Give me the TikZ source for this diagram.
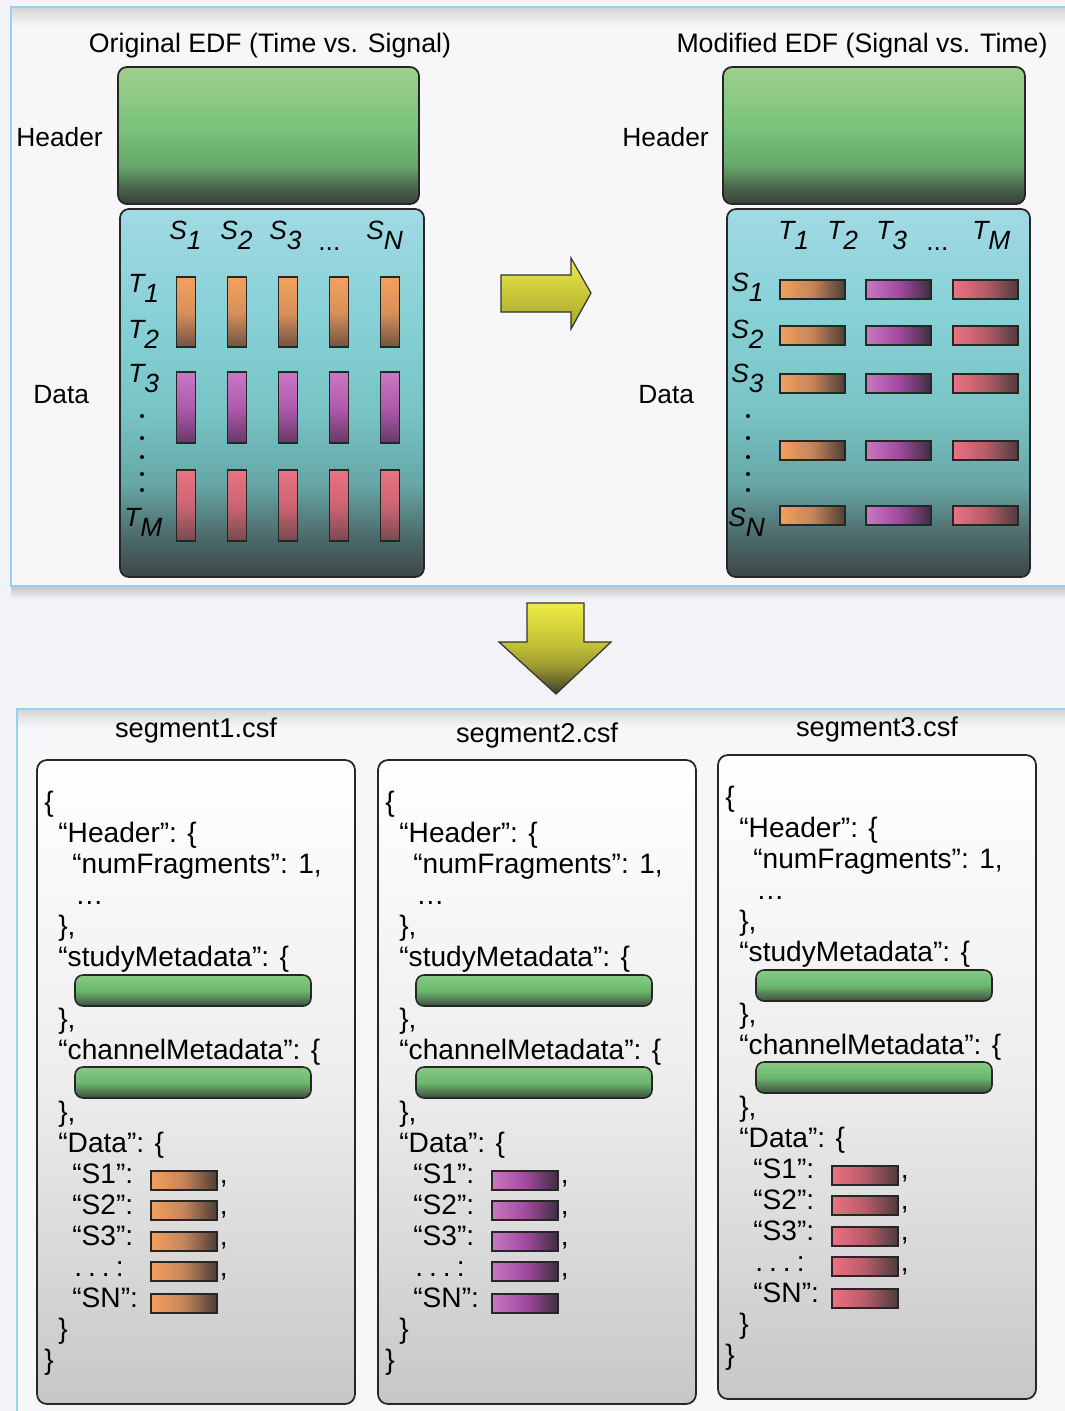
\documentclass[tikz,border=0pt]{standalone}
\usepackage{fontspec}
\setmainfont{Liberation Sans}
\usepackage{tikz}

\definecolor{pagebg}{HTML}{F3F3F7}
\definecolor{panelbg}{HTML}{F7F7FA}
\definecolor{panelblue}{HTML}{92D3F1}
\definecolor{hdrA}{HTML}{9DD08D}
\definecolor{hdrB}{HTML}{79C27A}
\definecolor{hdrC}{HTML}{66A86A}
\definecolor{hdrD}{HTML}{4C6C4E}
\definecolor{hdrE}{HTML}{3A403C}
\definecolor{datA}{HTML}{A1DAE4}
\definecolor{datB}{HTML}{86D0D6}
\definecolor{datC}{HTML}{78C4C4}
\definecolor{datD}{HTML}{66A6A6}
\definecolor{datE}{HTML}{4E6E6E}
\definecolor{datF}{HTML}{3E4646}
\definecolor{orgA}{HTML}{F3A05C}
\definecolor{orgB}{HTML}{C4845A}
\definecolor{orgC}{HTML}{4C3E38}
\definecolor{purA}{HTML}{C878C0}
\definecolor{purB}{HTML}{A24AA2}
\definecolor{purC}{HTML}{3E2E40}
\definecolor{redA}{HTML}{EC7282}
\definecolor{redB}{HTML}{B65C68}
\definecolor{redC}{HTML}{4E3C3E}
\definecolor{grnA}{HTML}{86CA84}
\definecolor{grnB}{HTML}{6CB86E}
\definecolor{grnC}{HTML}{3E4E3E}
\definecolor{yelA}{HTML}{EEEC44}
\definecolor{yelB}{HTML}{C2C036}
\definecolor{yelC}{HTML}{3E3E28}

\pgfdeclareverticalshading{hdrgrad}{100bp}{color(0bp)=(hdrE); color(25bp)=(hdrE); color(32bp)=(hdrD); color(39bp)=(hdrC); color(52bp)=(hdrB); color(75bp)=(hdrA); color(100bp)=(hdrA)}
\pgfdeclareverticalshading{datagrad}{100bp}{color(0bp)=(datF); color(25bp)=(datF); color(31bp)=(datE); color(37.5bp)=(datD); color(47.5bp)=(datC); color(60bp)=(datB); color(75bp)=(datA); color(100bp)=(datA)}
\pgfdeclareverticalshading{downgrad}{100bp}{color(0bp)=(yelC); color(25bp)=(yelC); color(40bp)=(yelB!70!yelC); color(52bp)=(yelB); color(75bp)=(yelA); color(100bp)=(yelA)}

\newcommand{\idx}[2]{\textit{#1\raisebox{-0.4em}{#2}}}
\newcommand{\indA}{\hspace*{0.28cm}}
\newcommand{\indB}{\hspace*{0.56cm}}
\newcommand{\indC}{\hspace*{0.62cm}}
\newcommand{\jsonbody}{%
\{\\
\indA“Header”: \{\\
\indB“numFragments”: 1,\\
\indC…\\
\indA\},\\
\indA“studyMetadata”: \{\\
\mbox{}\\
\indA\},\\
\indA“channelMetadata”: \{\\
\mbox{}\\
\indA\},\\
\indA“Data”: \{\\
\indB\makebox[2.95cm][l]{“S1”:},\\
\indB\makebox[2.95cm][l]{“S2”:},\\
\indB\makebox[2.95cm][l]{“S3”:},\\
\indB\makebox[2.95cm][l]{\hspace*{0.04cm}.\hspace{0.12cm}.\hspace{0.12cm}.\hspace{0.12cm}:},\\
\indB“SN”:\\
\indA\}\\
\}}

\begin{document}
\begin{tikzpicture}[x=0.02cm, y=-0.02cm,
    panel/.style={draw=panelblue, line width=1.2pt},
    hdrbox/.style={draw=black!85, line width=1pt, rounded corners=0.18cm, shade, shading=hdrgrad},
    databox/.style={draw=black!85, line width=1pt, rounded corners=0.18cm, shade, shading=datagrad},
    obarv/.style={draw=black!85, line width=0.8pt, top color=orgA, bottom color=orgC!70!orgB, middle color=orgA!45!orgB},
    pbarv/.style={draw=black!85, line width=0.8pt, top color=purA, bottom color=purC!60!purB, middle color=purA!35!purB},
    rbarv/.style={draw=black!85, line width=0.8pt, top color=redA, bottom color=redC!60!redB, middle color=redA!40!redB},
    obarh/.style={draw=black!85, line width=0.8pt, left color=orgA, right color=orgC, middle color=orgB},
    pbarh/.style={draw=black!85, line width=0.8pt, left color=purA, right color=purC, middle color=purB},
    rbarh/.style={draw=black!85, line width=0.8pt, left color=redA, right color=redC, middle color=redB},
    greenbar/.style={draw=black!85, line width=0.9pt, rounded corners=0.16cm, top color=grnA, bottom color=grnC, middle color=grnB},
    segbox/.style={draw=black!85, line width=1pt, rounded corners=0.2cm, top color=white, bottom color=black!22, middle color=black!7},
    yarrow/.style={draw=black!80, line width=0.7pt, top color=yelA, bottom color=yelB!85!black},
    darrow/.style={draw=black!80, line width=0.7pt, shade, shading=downgrad},
    ttl/.style={font=\fontsize{15.2}{18}\selectfont, inner sep=0pt, anchor=base},
    sidelbl/.style={font=\fontsize{15}{18}\selectfont, inner sep=0pt, anchor=base west},
    idxlbl/.style={font=\fontsize{15}{18}\selectfont, inner sep=0pt, anchor=base west},
    jsontxt/.style={font=\fontsize{16}{17.64}\selectfont, align=left, inner sep=0pt, anchor=north west},
    segttl/.style={font=\fontsize{15.5}{18}\selectfont, inner sep=0pt}]
\useasboundingbox (0,0) rectangle (1065,1411);
\fill[pagebg] (0,0) rectangle (1065,1411);

% upper panel: the two EDF layouts
\fill[panelbg] (11,7) rectangle (1065,586);
\shade[top color=black!16, bottom color=panelbg] (12,8) rectangle (1065,26);
\shade[top color=black!22, bottom color=pagebg] (11,587) rectangle (1065,599);
\draw[panel] (1065,7) -- (11,7) -- (11,586) -- (1065,586);

\node[ttl] (origttl) at (270,52) {Original EDF (Time vs. Signal)};
\node[ttl] (modttl) at (862,52) {Modified EDF (Signal vs. Time)};

\draw[hdrbox] (118,67) rectangle (419,204);
\draw[databox] (120,209) rectangle (424,577);
\draw[hdrbox] (723,67) rectangle (1025,204);
\draw[databox] (727,209) rectangle (1030,577);

\node[sidelbl] (hdrlblL) at (16,146) {Header};
\node[sidelbl] (datlblL) at (33,403) {Data};
\node[sidelbl] (hdrlblR) at (622,146) {Header};
\node[sidelbl] (datlblR) at (638,403) {Data};

% time x signal grid
\foreach \lab/\x in {1/169, 2/220, 3/269, N/366}
  \node[idxlbl] (sL\lab) at (\x,239) {\idx{S}{\lab}};
\node[idxlbl] (sLdots) at (318,250) {...};
\foreach \lab/\y in {1/292, 2/338, 3/382}
  \node[idxlbl] (tL\lab) at (128,\y) {\idx{T}{\lab}};
\node[idxlbl] (tLM) at (124,526) {\idx{T}{M}};
\foreach \y in {416,438,457,474,490}
  \fill (142,\y) circle (1.15pt);
\foreach \x in {186,237,288,339,390} {
  \draw[obarv] (\x-9.5,277) rectangle (\x+9.5,347);
  \draw[pbarv] (\x-9.5,372) rectangle (\x+9.5,443);
  \draw[rbarv] (\x-9.5,470) rectangle (\x+9.5,541);
}

% signal x time grid
\foreach \lab/\x in {1/778, 2/827, 3/876, M/972}
  \node[idxlbl] (tR\lab) at (\x,239) {\idx{T}{\lab}};
\node[idxlbl] (tRdots) at (926,250) {...};
\foreach \lab/\y in {1/291, 2/338, 3/382}
  \node[idxlbl] (sR\lab) at (731,\y) {\idx{S}{\lab}};
\node[idxlbl] (sRN) at (728,526) {\idx{S}{N}};
\foreach \y in {416,438,457,474,490}
  \fill (748,\y) circle (1.15pt);
\foreach \y in {280,326,374,441,506} {
  \draw[obarh] (780,\y) rectangle (845,\y+19);
  \draw[pbarh] (866,\y) rectangle (931,\y+19);
  \draw[rbarh] (953,\y) rectangle (1018,\y+19);
}

% arrows
\draw[yarrow] (501,275) -- (571,275) -- (571,258) -- (591,293) -- (571,329) -- (571,312) -- (501,312) -- cycle;
\draw[darrow] (527,603) -- (584,603) -- (584,642) -- (611,642) -- (556,694) -- (499,642) -- (527,642) -- cycle;

% lower panel: the csf segments
\fill[panelbg] (17,709) rectangle (1065,1411);
\shade[top color=black!16, bottom color=panelbg] (18,710) rectangle (1065,727);
\draw[panel] (1065,709) -- (17,709) -- (17,1411);

\foreach \segi/\dx/\dy/\ty/\barsty in {1/0/0/730/obarh, 2/341/0/735/pbarh, 3/681/-5/734/rbarh} {
  \begin{scope}[shift={(\dx,\dy)}]
    \node[segttl] (segname\segi) at (196,\ty) {segment\segi.csf};
    \draw[segbox] (37,760) rectangle (355,1404);
    \node[jsontxt] (json\segi) at (44,791) {\jsonbody};
    \draw[greenbar] (75,975) rectangle (311,1006);
    \draw[greenbar] (75,1067) rectangle (311,1098);
    \foreach \y in {1171,1201,1232,1262,1294}
      \draw[\barsty] (151,\y) rectangle (217,\y+19);
  \end{scope}
}
\end{tikzpicture}
\end{document}
